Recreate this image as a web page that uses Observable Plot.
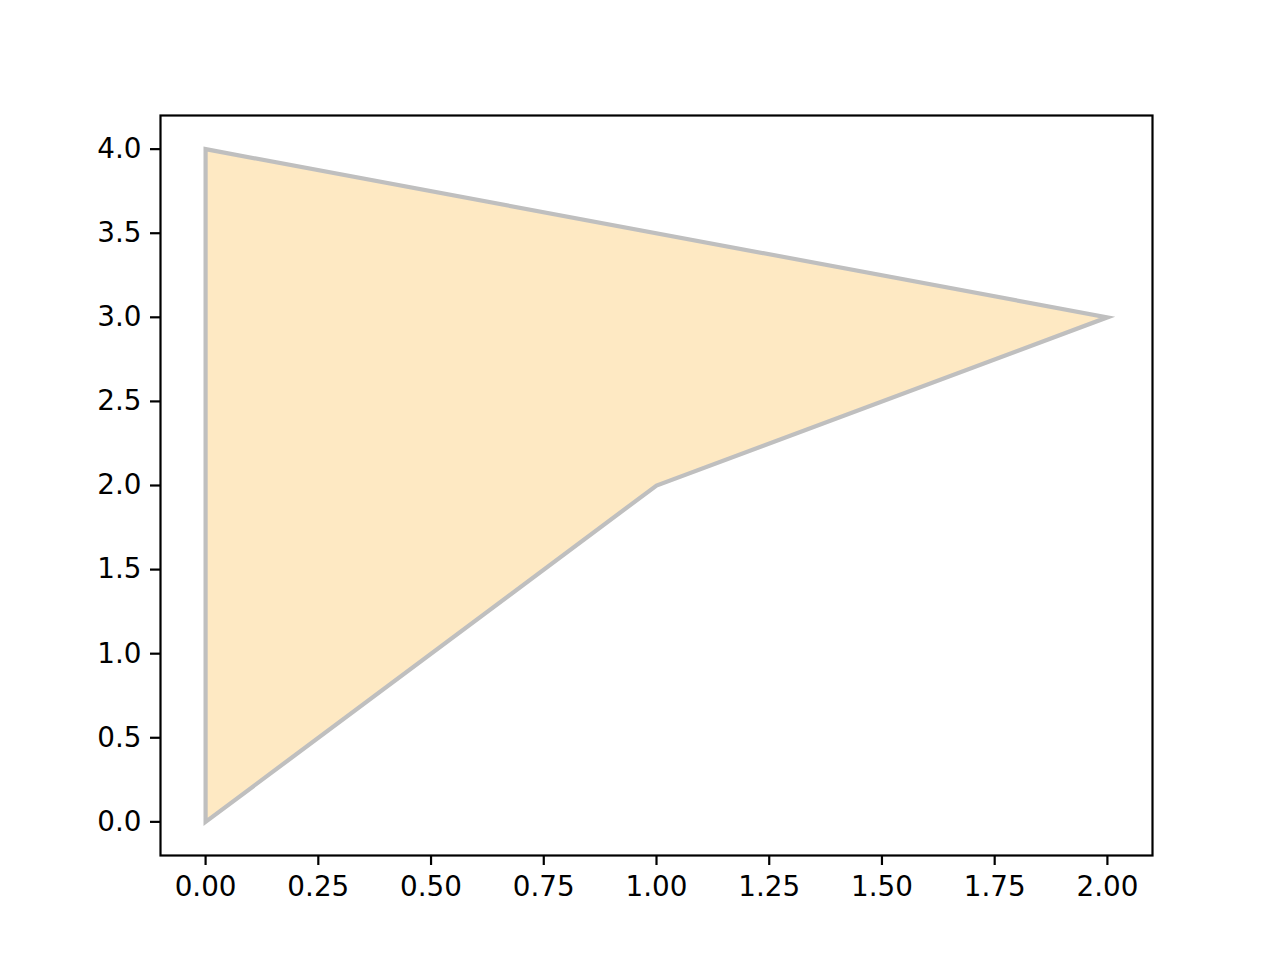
<!DOCTYPE html>
<html>
<head>
<meta charset="utf-8">
<script src="https://cdn.jsdelivr.net/npm/d3@7"></script>
<script src="https://cdn.jsdelivr.net/npm/@observablehq/plot@0.6"></script>
<style>
  html, body { margin: 0; padding: 0; background: #fff; }
  svg { display: block; }
</style>
</head>
<body>
<div id="chart"></div>
<script>
const xs = [0, 1, 2, 0];
const ys = [0, 2, 3, 4];
const xTicks = [0, 0.25, 0.5, 0.75, 1, 1.25, 1.5, 1.75, 2];
const yTicks = [0, 0.5, 1, 1.5, 2, 2.5, 3, 3.5, 4];

const pts = xs.map((x, i) => ({x, y: ys[i]}));

const chart = Plot.plot({
  width: 1280,
  height: 960,
  marginLeft: 160,
  marginRight: 128,
  marginTop: 115,
  marginBottom: 105,
  style: {fontFamily: "DejaVu Sans", background: "#fff", color: "#000"},
  x: {domain: [-0.1, 2.1]},
  y: {domain: [-0.2, 4.2]},
  marks: [
    Plot.line(pts, {
      x: "x", y: "y",
      curve: "linear-closed",
      fill: "#FEE9C3",
      stroke: "#BFBFBF",
      strokeWidth: 4.2,
      strokeLinejoin: "miter",
      strokeMiterlimit: 10
    }),
    Plot.frame({stroke: "#000", strokeWidth: 2.2}),
    Plot.axisX({ticks: xTicks, tickFormat: d3.format(".2f"), tickSize: 10, tickPadding: 11, fontSize: 27.8, strokeWidth: 2.2, label: null}),
    Plot.axisY({ticks: yTicks, tickFormat: d3.format(".1f"), tickSize: 10, tickPadding: 9, fontSize: 27.8, strokeWidth: 2.2, label: null})
  ]
});
document.getElementById("chart").appendChild(chart);
</script>
</body>
</html>
